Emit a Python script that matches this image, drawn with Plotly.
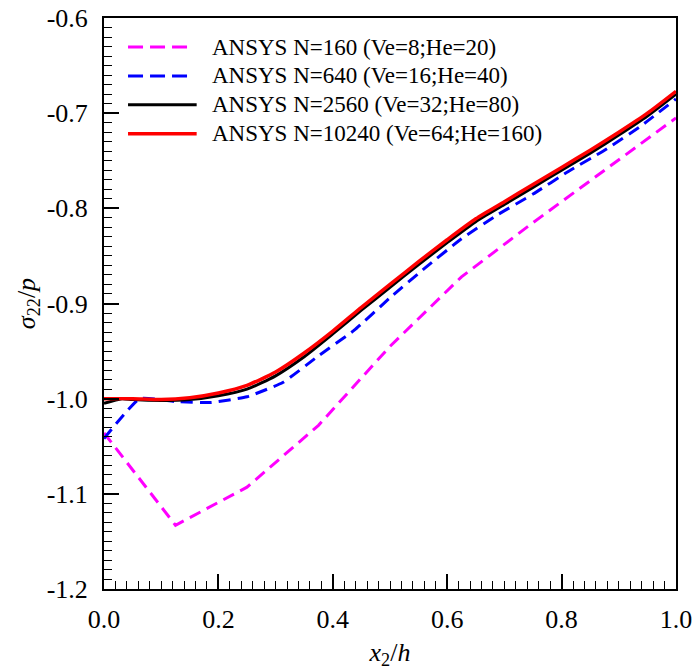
import plotly.graph_objects as go

# Normal stress sigma_22/p along x2/h for four ANSYS mesh densities
x_n160 = [0.0, 0.125, 0.25, 0.375, 0.5, 0.625, 0.75, 0.875, 1.0]
s_n160 = [-1.036, -1.133, -1.093, -1.028, -0.945, -0.872, -0.815, -0.760, -0.705]

x_n640 = [0.0, 0.0625, 0.125, 0.1875, 0.25, 0.3125, 0.375, 0.4375, 0.5,
          0.5625, 0.625, 0.6875, 0.75, 0.8125, 0.875, 0.9375, 1.0]
s_n640 = [-1.042, -1.000, -1.003, -1.004, -0.998, -0.983, -0.955, -0.928, -0.894,
          -0.862, -0.832, -0.807, -0.785, -0.761, -0.739, -0.714, -0.685]

x_n2560 = [0.0, 0.03125, 0.05, 0.1, 0.15, 0.2, 0.25, 0.3, 0.35, 0.4, 0.45, 0.5,
           0.55, 0.6, 0.65, 0.7, 0.75, 0.8, 0.85, 0.9, 0.95, 1.0]
s_n2560 = [-1.005, -1.000, -1.001, -1.002, -1.001, -0.997, -0.990, -0.976, -0.956,
           -0.932, -0.907, -0.883, -0.859, -0.836, -0.814, -0.796, -0.778, -0.760,
           -0.742, -0.723, -0.703, -0.680]

x_n10240 = [0.0, 0.05, 0.1, 0.15, 0.2, 0.25, 0.3, 0.35, 0.4, 0.45, 0.5,
            0.55, 0.6, 0.65, 0.7, 0.75, 0.8, 0.85, 0.9, 0.95, 1.0]
s_n10240 = [-1.000, -1.000, -1.001, -0.999, -0.994, -0.986, -0.972, -0.952, -0.929,
            -0.904, -0.880, -0.856, -0.833, -0.811, -0.793, -0.775, -0.757, -0.739,
            -0.720, -0.700, -0.677]

names = ["ANSYS N=160 (Ve=8;He=20)", "ANSYS N=640 (Ve=16;He=40)",
         "ANSYS N=2560 (Ve=32;He=80)", "ANSYS N=10240 (Ve=64;He=160)"]
colors = ["#ff00ff", "#0000ff", "#000000", "#ff0000"]
dashes = ["12px,7px", "12px,7px", "solid", "solid"]
shapes = ["linear", "spline", "spline", "spline"]
smooth = [None, 0.4, 0.6, 0.6]
widths = [3, 3, 3, 3.5]
xs = [x_n160, x_n640, x_n2560, x_n10240]
ys = [s_n160, s_n640, s_n2560, s_n10240]

x_ticks = [0.0, 0.2, 0.4, 0.6, 0.8, 1.0]
x_ticktext = ["0.0", "0.2", "0.4", "0.6", "0.8", "1.0"]
y_ticks = [-1.2, -1.1, -1.0, -0.9, -0.8, -0.7, -0.6]
y_ticktext = ["-1.2", "-1.1", "-1.0", "-0.9", "-0.8", "-0.7", "-0.6"]

FONT = "Liberation Serif, Times New Roman, serif"

fig = go.Figure()
for x, y, n, c, d, s, sm, w in zip(xs, ys, names, colors, dashes, shapes, smooth, widths):
    fig.add_trace(go.Scatter(x=x, y=y, mode="lines", name=n,
                             line=dict(color=c, dash=d, width=w, shape=s, smoothing=sm),
                             showlegend=False))

# Legend drawn in paper space: short line sample followed by the label
leg_top = 0.949
leg_step = 0.0505
for i, (n, c, d, w) in enumerate(zip(names, colors, dashes, widths)):
    yy = leg_top - i * leg_step
    x1 = 0.147 if d != "solid" else 0.162
    fig.add_shape(type="line", xref="paper", yref="paper",
                  x0=0.042, x1=x1, y0=yy, y1=yy,
                  line=dict(color=c, width=w,
                            dash="15px,7px" if d != "solid" else "solid"))
    fig.add_annotation(xref="paper", yref="paper", x=0.185, y=yy,
                       xanchor="left", yanchor="middle", showarrow=False,
                       text=n, font=dict(family=FONT, size=23, color="black"))

axis_common = dict(
    showgrid=False, zeroline=False, showline=True, linecolor="black",
    linewidth=2, mirror=True, ticks="inside", ticklen=15, tickwidth=1.5,
    tickcolor="black", tickfont=dict(family=FONT, size=26, color="black"),
    automargin=False,
)

fig.update_xaxes(
    range=[0, 1], tickvals=x_ticks, ticktext=x_ticktext, ticklabelstandoff=6,
    minor=dict(dtick=0.02, ticks="inside", ticklen=8, tickwidth=1.2, tickcolor="black"),
    title=dict(text="<i>x</i><sub>2</sub>/<i>h</i>", font=dict(family=FONT, size=26),
               standoff=12),
    **axis_common,
)
fig.update_yaxes(
    range=[-1.2, -0.6], tickvals=y_ticks, ticktext=y_ticktext, ticklabelstandoff=9,
    minor=dict(dtick=0.01, ticks="inside", ticklen=8, tickwidth=1.2, tickcolor="black"),
    title=dict(text="<i>σ</i><sub>22</sub>/<i>p</i>", font=dict(family=FONT, size=26),
               standoff=4),
    **axis_common,
)

fig.update_layout(
    width=696, height=670,
    margin=dict(l=104, r=20, t=18, b=81),
    paper_bgcolor="white", plot_bgcolor="white",
    font=dict(family=FONT, color="black"),
)

fig.write_html("out.html")
